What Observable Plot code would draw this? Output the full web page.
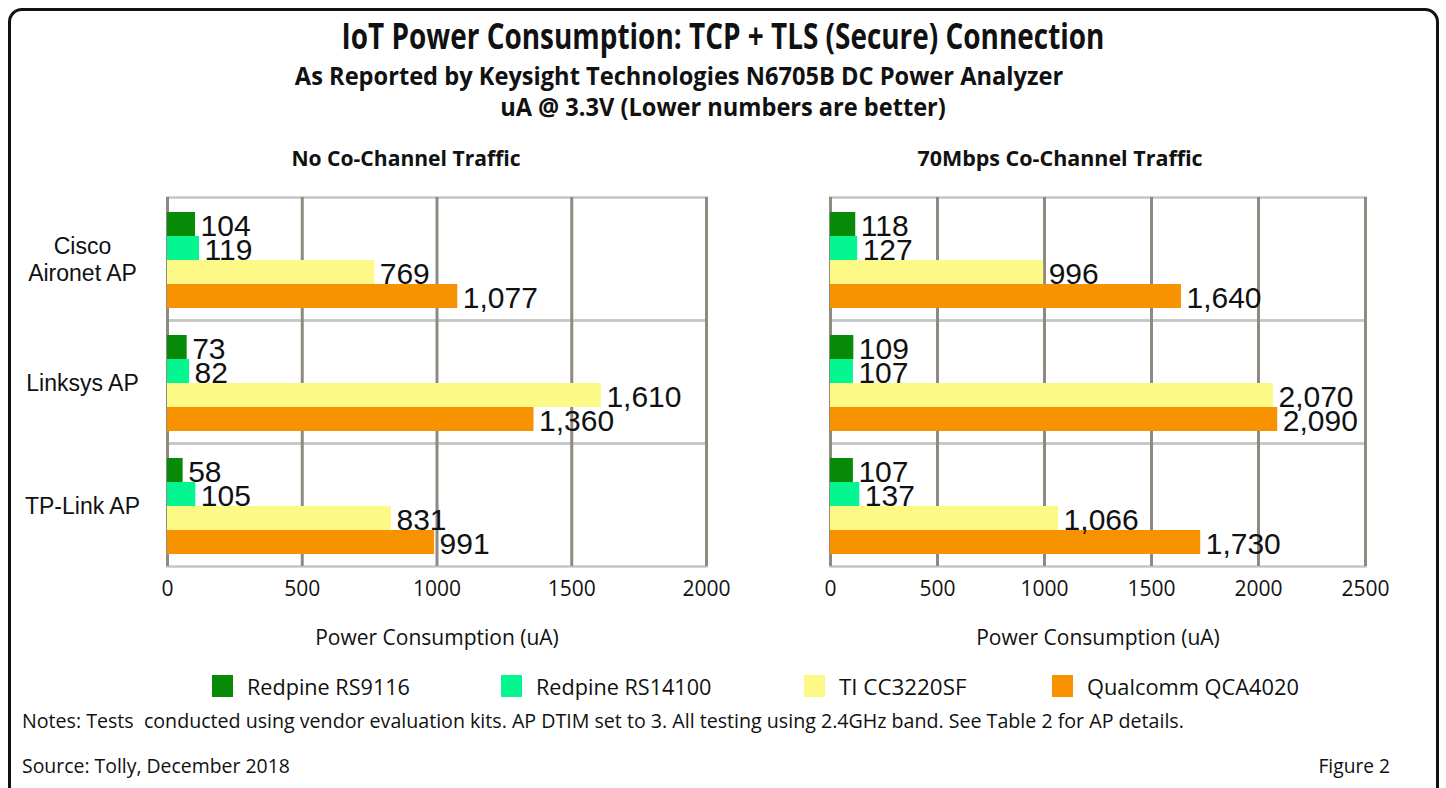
<!DOCTYPE html>
<html>
<head>
<meta charset="utf-8">
<script src="https://cdn.jsdelivr.net/npm/d3@7"></script>
<script src="https://cdn.jsdelivr.net/npm/@observablehq/plot@0.6"></script>
<style>
  html, body { margin: 0; padding: 0; background: #fff; }
  #page { position: relative; width: 1446px; height: 788px; overflow: hidden; background: #fff; }
  .box { position: absolute; left: 8px; top: 8px; width: 1431px; height: 820px; border: 3px solid #111; border-radius: 14px; box-sizing: border-box; }
  .t { position: absolute; white-space: nowrap; color: #111; font-family: "Open Sans", "DejaVu Sans", sans-serif; }
  .c { transform: translate(-50%, -50%); transform-origin: center center; }
  .l { transform: translate(0, -50%); transform-origin: left center; }
  .r { transform: translate(-100%, -50%); transform-origin: right center; }
  .b { font-weight: bold; }
  .sw { position: absolute; width: 21px; height: 22px; }
  .panel { position: absolute; }
  .panel svg { overflow: visible; }
</style>
</head>
<body>
<div id="page">
  <div class="box"></div>
  <div class="t c b" data-w="763" style="left:723px; top:35px; font-size:35px;">IoT Power Consumption: TCP + TLS (Secure) Connection</div>
  <div class="t c b" data-w="768" style="left:679px; top:75px; font-size:25px;">As Reported by Keysight Technologies N6705B DC Power Analyzer</div>
  <div class="t c b" data-w="446" style="left:723px; top:106px; font-size:25px;">uA @ 3.3V (Lower numbers are better)</div>
  <div class="t c b" data-w="229" style="left:406px; top:158px; font-size:21px;">No Co-Channel Traffic</div>
  <div class="t c b" data-w="285" style="left:1060px; top:158px; font-size:21px;">70Mbps Co-Channel Traffic</div>
  <div id="left" class="panel" style="left:0px; top:185px;"></div>
  <div id="right" class="panel" style="left:720px; top:185px;"></div>
  <div id="legend"></div>
  <div class="t l" data-w="1161" style="left:22px; top:720px; font-size:20px;">Notes: Tests&nbsp; conducted using vendor evaluation kits. AP DTIM set to 3. All testing using 2.4GHz band. See Table 2 for AP details.</div>
  <div class="t l" data-w="268" style="left:22px; top:765px; font-size:20px;">Source: Tolly, December 2018</div>
  <div class="t r" data-w="72" style="left:1390px; top:765px; font-size:20px;">Figure 2</div>
</div>
<script>
// ---- data ----
const accessPoints = ["Cisco\nAironet AP", "Linksys AP", "TP-Link AP"];
const devices = ["Redpine RS9116", "Redpine RS14100", "TI CC3220SF", "Qualcomm QCA4020"];
const deviceColors = ["#078a07", "#04f690", "#fcf986", "#f79301"];

// No co-channel traffic (uA), per access point
const none_RS9116 = [104, 73, 58];
const none_RS14100 = [119, 82, 105];
const none_CC3220SF = [769, 1610, 831];
const none_QCA4020 = [1077, 1360, 991];

// 70Mbps co-channel traffic (uA), per access point
const busy_RS9116 = [118, 109, 107];
const busy_RS14100 = [127, 107, 137];
const busy_CC3220SF = [996, 2070, 1066];
const busy_QCA4020 = [1640, 2090, 1730];

const leftTicks = [0, 500, 1000, 1500, 2000];
const rightTicks = [0, 500, 1000, 1500, 2000, 2500];

function rows(seriesArrays) {
  const out = [];
  accessPoints.forEach((ap, i) => {
    devices.forEach((dev, j) => out.push({ap, device: dev, value: seriesArrays[j][i]}));
  });
  return out;
}

const uiFont = '"Open Sans", "DejaVu Sans", sans-serif';
const arial = '"Liberation Sans", Arial, sans-serif';
const fmt = d3.format(",");

function panel(data, ticks, width, marginLeft, marginRight, showLabels) {
  const H = 470, top = 11, facetTotal = 370;
  const marks = [
    Plot.frame({stroke: "#c6c6c6", strokeWidth: 2.5}),
    Plot.gridX({ticks, stroke: "#8d8a80", strokeWidth: 3, strokeOpacity: 1}),
    Plot.barX(data, {x: "value", y: "device", fy: "ap", fill: "device"}),
    Plot.text(data, {x: "value", y: "device", fy: "ap", text: d => fmt(d.value), dx: 5, dy: 2,
      textAnchor: "start", fontSize: 30, fontFamily: arial, fill: "#111"}),
    Plot.axisX({anchor: "bottom", ticks, tickSize: 0, tickPadding: 15, tickFormat: d => String(d),
      fontSize: 21, fontFamily: uiFont, fill: "#111",
      label: "Power Consumption (uA)", labelAnchor: "center", labelOffset: 78, labelArrow: "none"})
  ];
  if (showLabels) {
    marks.push(Plot.axisFy({anchor: "left", tickSize: 0, tickPadding: 85, textAnchor: "middle",
      fontSize: 23, lineHeight: 1.17, fontFamily: arial, fill: "#111", label: null}));
  }
  return Plot.plot({
    width, height: H,
    marginTop: top, marginBottom: H - top - facetTotal, marginLeft, marginRight,
    style: {background: "transparent", color: "#111", fontSize: "21px", fontFamily: uiFont},
    x: {domain: [ticks[0], ticks[ticks.length - 1]], axis: null},
    y: {domain: devices, paddingInner: 0, paddingOuter: 0.5, align: 0.55, axis: null},
    fy: {domain: accessPoints, padding: 0, axis: null},
    color: {domain: devices, range: deviceColors},
    marks
  });
}

document.getElementById("left").append(
  panel(rows([none_RS9116, none_RS14100, none_CC3220SF, none_QCA4020]), leftTicks, 720, 167, 14, true));
document.getElementById("right").append(
  panel(rows([busy_RS9116, busy_RS14100, busy_CC3220SF, busy_QCA4020]), rightTicks, 726, 110, 81, false));

// legend
const legendX = [212, 501, 804, 1052];
const legendW = [163, 176, 127, 212];
const legend = document.getElementById("legend");
devices.forEach((d, i) => {
  const sw = document.createElement("div");
  sw.className = "sw";
  sw.style.left = legendX[i] + "px";
  sw.style.top = "675px";
  sw.style.background = deviceColors[i];
  legend.append(sw);
  const lab = document.createElement("div");
  lab.className = "t l";
  lab.dataset.w = legendW[i];
  lab.style.left = (legendX[i] + 35) + "px";
  lab.style.top = "686px";
  lab.style.fontSize = "22px";
  lab.textContent = d;
  legend.append(lab);
});

// fit HTML text widths to the reference's narrow typeface
document.querySelectorAll("[data-w]").forEach(el => {
  const k = +el.dataset.w / el.offsetWidth;
  const base = el.classList.contains("c") ? "translate(-50%, -50%)"
    : el.classList.contains("r") ? "translate(-100%, -50%)" : "translate(0, -50%)";
  el.style.transform = `${base} scaleX(${k.toFixed(3)})`;
});
</script>
</body>
</html>
